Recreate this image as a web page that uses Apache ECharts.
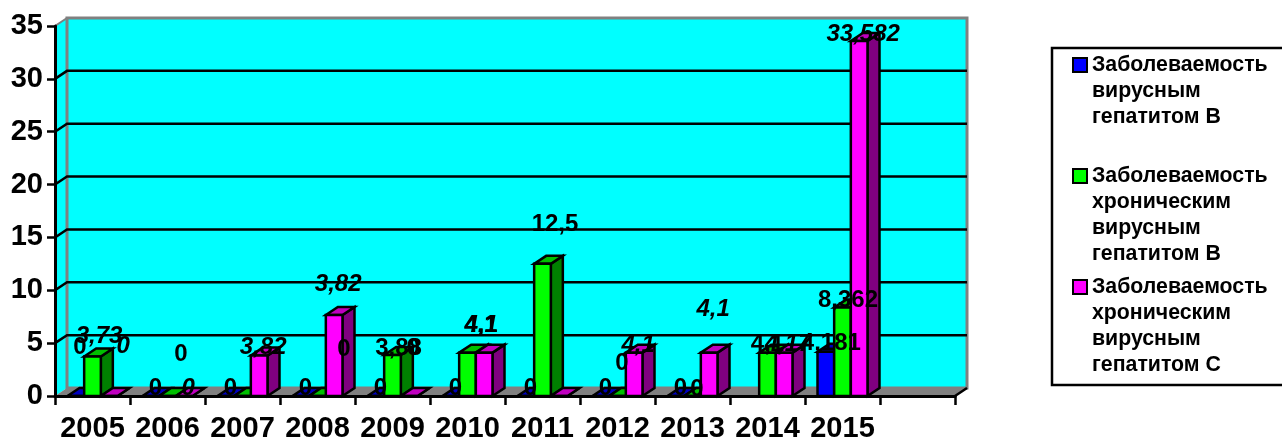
<!DOCTYPE html>
<html>
<head>
<meta charset="utf-8">
<style>html,body{margin:0;padding:0;background:#fff;overflow:hidden}#main{width:1282px;height:438px}</style>
<script src="https://cdn.jsdelivr.net/npm/echarts@6/dist/echarts.min.js"></script>
</head>
<body>
<div id="main"></div>
<script>
// данные
var years = ['2005','2006','2007','2008','2009','2010','2011','2012','2013','2014','2015',''];
var yTicks = [0,5,10,15,20,25,30,35];
var seriesNames = [
    'Заболеваемость\nвирусным\nгепатитом В\n ',
    'Заболеваемость\nхроническим\nвирусным\nгепатитом В',
    'Заболеваемость\nхроническим\nвирусным\nгепатитом С'
];
var blueValues    = [0,0,0,0,0,0,0,0,0,null,4.181];
var greenValues   = [3.73,0,0,0,3.88,4.1,12.5,0,0,4.1,8.362];
var magentaValues = [0,0,3.82,7.66,0,4.1,0,4.1,4.1,4.1,33.582];
// подписи на диаграмме не всегда совпадают с высотой столбика
var blueLabels    = ['0','0','0','0','0','0','0','0','0',null,'4,181'];
var greenLabels   = ['3,73','0',null,'0','3,88','4,1','12,5','0','0','4,1','8,362'];
var magentaLabels = ['0','0','3,82','3,82','0','4,1',null,'4,1','4,1','4,17','33,582'];

// сдвиг подписей от верха столбика, px
var labelShift = [
    [[4,-49],[4.5,-8],[4.5,-8],[4.5,-8],[4.5,-8],[4.5,-8],[4.5,-8],[4.5,-8],[4.5,-8],null,[5,-8]],
    [[6.5,-20.6],[13.5,-42],null,[26.5,-47],[6,-7],[13.5,-27],[12.5,-39],[4.5,-33],[4.5,-7],[0,-8.5],[5.5,-7.5]],
    [[14,-50],[4,-8],[4,-8],[4,-31],[4,-48],[-3,-27],null,[4,-7],[4,-43],[4,-8.7],[4,-7]]
];
var italicLabels = [
    function(){ return false; },
    function(i){ return i === 0; },
    function(i){ return i !== 4; }
];

var FONT = '"Liberation Sans", Arial, sans-serif';
var DX = 12, DY = -8;  // глубина 3D
var faceColors = ['#0000ff','#00ff00','#ff00ff'];
var topColors  = ['#0000c0','#00c000','#c000c0'];
var sideColors = ['#000080','#008000','#800080'];
var allValues = [blueValues, greenValues, magentaValues];
var allLabels = [blueLabels, greenLabels, magentaLabels];

function poly(points, fill, stroke, lineWidth){
    return {
        type: 'polygon',
        shape: { points: points },
        style: { fill: fill, stroke: stroke || null, lineWidth: lineWidth || 0, lineJoin: 'miter' }
    };
}

// задняя стенка, пол и линии сетки
function renderWalls(params, api){
    var band = api.size([1,0])[0];
    var x0 = api.coord([0,0])[0] - band/2;
    var x1 = api.coord([11,0])[0] + band/2;
    var y0 = api.coord([0,0])[1];
    var y1 = api.coord([0,35])[1];
    var children = [
        poly([[x0,y1],[x0+DX,y1+DY],[x0+DX,y0+DY],[x0,y0]], '#00ffff'),
        poly([[x0+DX,y1+DY],[x1+DX,y1+DY],[x1+DX,y0+DY],[x0+DX,y0+DY]], '#00ffff', '#808080', 3),
        poly([[x0,y0],[x1,y0],[x1+DX,y0+DY],[x0+DX,y0+DY]], '#808080')
    ];
    yTicks.forEach(function(t){
        var y = api.coord([0,t])[1];
        if (t > 0 && t < 35) {
            children.push({
                type: 'polyline',
                shape: { points: [[x0,y],[x0+DX,y+DY],[x1+DX,y+DY]] },
                style: { fill: null, stroke: '#000', lineWidth: 2.5 }
            });
        }
    });
    children.push({
        type: 'line',
        shape: { x1: x0, y1: y1, x2: x0+DX, y2: y1+DY },
        style: { stroke: '#808080', lineWidth: 2 }
    });
    children.push({
        type: 'line',
        shape: { x1: x1, y1: y0, x2: x1+DX, y2: y0+DY },
        style: { stroke: '#000', lineWidth: 2.5 }
    });
    return { type: 'group', children: children };
}

function makeBarRender(s){
    return function(params, api){
        var v = api.value(1);
        if (isNaN(v)) return;
        var band = api.size([1,0])[0];
        var w = band/4.5;
        var p = api.coord([api.value(0), v]);
        var base = api.coord([api.value(0), 0]);
        var l = p[0] + (s-1.5)*w, r = l + w;
        var t = p[1], b = base[1];
        return {
            type: 'group',
            children: [
                poly([[r,t],[r+DX,t+DY],[r+DX,b+DY],[r,b]], sideColors[s], '#000', 2.5),
                poly([[l,t],[l+DX,t+DY],[r+DX,t+DY],[r,t]], topColors[s], '#000', 2.5),
                poly([[l,t],[r,t],[r,b],[l,b]], faceColors[s], '#000', 2.5)
            ]
        };
    };
}

function renderLabel(params, api){
    var s = api.value(0), i = api.value(1);
    var text = allLabels[s][i];
    var shift = labelShift[s][i];
    var band = api.size([1,0])[0];
    var w = band/4.5;
    var p = api.coord([i, allValues[s][i] || 0]);
    return {
        type: 'text',
        x: p[0] + (s-1)*w + shift[0],
        y: p[1] + shift[1],
        style: {
            text: text,
            fill: '#000',
            align: 'center',
            verticalAlign: 'middle',
            font: (italicLabels[s](i) ? 'italic ' : '') + 'bold 24px ' + FONT
        }
    };
}

var labelData = [];
allLabels.forEach(function(list, s){
    list.forEach(function(t, i){
        if (t !== null) labelData.push([s, i]);
    });
});

var myChart = echarts.init(document.getElementById('main'), null, { renderer: 'canvas' });
var option = {
    animation: false,
    backgroundColor: '#fff',
    grid: { left: 55, right: 327, top: 26, bottom: 42, outerBoundsMode: 'none' },
    graphic: [{
        type: 'rect',
        silent: true,
        shape: { x: 1052, y: 48, width: 240, height: 337 },
        style: { fill: '#fff', stroke: '#000', lineWidth: 2.5 },
        z: 0
    }],
    legend: {
        data: seriesNames,
        orient: 'vertical',
        left: 1072,
        top: -26,
        height: 1000,
        padding: 0,
        itemWidth: 14,
        itemHeight: 14,
        itemGap: -71,
        icon: 'rect',
        selectedMode: false,
        // три пустые строки сверху, чтобы значок стоял у первой строки текста
        formatter: function(name){ return '\n\n\n' + name; },
        textStyle: {
            color: '#000',
            fontFamily: 'Liberation Sans',
            fontWeight: 'bold',
            fontSize: 21.3,
            lineHeight: 26
        }
    },
    xAxis: {
        type: 'category',
        data: years,
        z: 8,
        axisLine: { lineStyle: { color: '#000', width: 3 } },
        axisTick: { show: true, length: 9, lineStyle: { color: '#000', width: 2.5 } },
        axisLabel: {
            interval: 0,
            color: '#000',
            fontFamily: 'Liberation Sans',
            fontWeight: 'bold',
            fontSize: 29,
            margin: 18
        },
        splitLine: { show: false }
    },
    yAxis: {
        type: 'value',
        min: 0,
        max: 35,
        interval: 5,
        z: 8,
        axisLine: { show: true, lineStyle: { color: '#000', width: 3 } },
        axisTick: { show: true, length: 8, lineStyle: { color: '#000', width: 2.5 } },
        axisLabel: {
            color: '#000',
            fontFamily: 'Liberation Sans',
            fontWeight: 'bold',
            fontSize: 29,
            margin: 12
        },
        splitLine: { show: false }
    },
    series: [
        { type: 'custom', name: 'walls', silent: true, z: 1, renderItem: renderWalls, data: [[0,0]], encode: { x: 0, y: 1 } }
    ]
};

allValues.forEach(function(values, s){
    option.series.push({
        type: 'custom',
        name: seriesNames[s],
        silent: true,
        z: 3 + s,
        itemStyle: { color: faceColors[s], borderColor: '#000', borderWidth: 2 },
        renderItem: makeBarRender(s),
        encode: { x: 0, y: 1 },
        data: values.map(function(v, i){ return [i, v]; })
    });
});

option.series.push({
    type: 'custom',
    name: 'labels',
    silent: true,
    z: 9,
    renderItem: renderLabel,
    data: labelData,
    encode: { x: -1, y: -1 }
});

myChart.setOption(option);
</script>
</body>
</html>
